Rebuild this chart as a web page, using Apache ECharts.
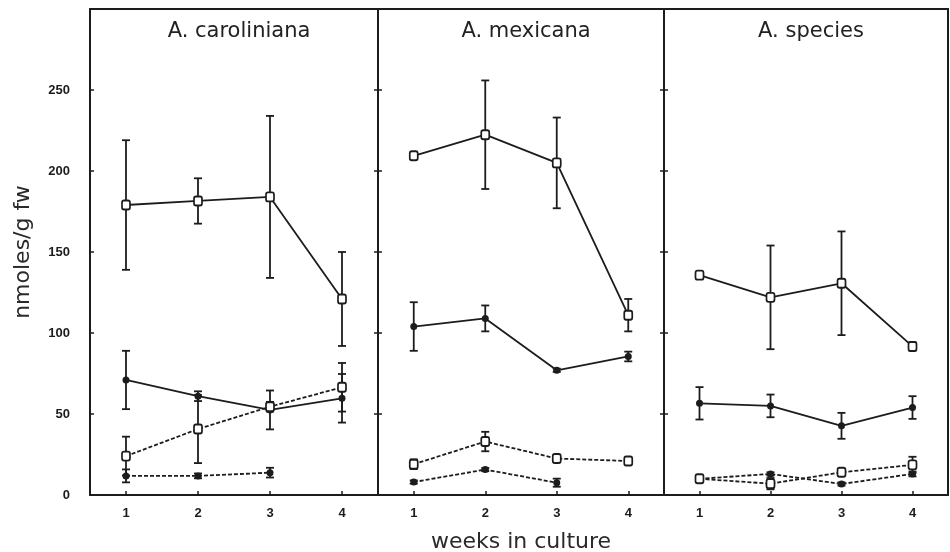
<!DOCTYPE html>
<html>
<head>
<meta charset="utf-8">
<script src="https://cdn.jsdelivr.net/npm/echarts@6/dist/echarts.min.js"></script>
<style>html,body{margin:0;padding:0;background:#fff;}#chart{width:950px;height:552px;}</style>
</head>
<body>
<div id="chart"></div>
<script>
// ---- data ----
const weeks = [1, 2, 3, 4];
const panelTitles = ['A. caroliniana', 'A. mexicana', 'A. species'];
const yTicks = [0, 50, 100, 150, 200, 250];
const xTickLabels = ['1', '2', '3', '4'];

// A. caroliniana
const carOpenSolid = [179, 181.5, 184, 121];
const carOpenSolidErr = [40, 14, 50, 29];
const carFilledSolid = [71, 61, 52.5, 59.7];
const carFilledSolidErr = [18, 3, 12, 15];
const carOpenDashed = [24, 40.7, 54.5, 66.5];
const carOpenDashedErr = [12, 21, 3, 15];
const carFilledDashed = [11.8, 11.8, 13.8, null];
const carFilledDashedErr = [4, 1.5, 3, null];

// A. mexicana
const mexOpenSolid = [209.4, 222.4, 205, 111];
const mexOpenSolidErr = [1.5, 33.5, 28, 10];
const mexFilledSolid = [104, 109, 77, 85.5];
const mexFilledSolidErr = [15, 8, 1, 3];
const mexOpenDashed = [19, 33, 22.5, 21];
const mexOpenDashedErr = [3, 6, 1.5, 1];
const mexFilledDashed = [8, 15.7, 7.6, null];
const mexFilledDashedErr = [1, 1, 2.5, null];

// A. species
const speOpenSolid = [135.7, 122, 130.7, 91.7];
const speOpenSolidErr = [2, 32, 32, 2.5];
const speFilledSolid = [56.6, 55, 42.7, 54];
const speFilledSolidErr = [10, 7, 8, 7];
const speOpenDashed = [10, 7, 14, 18.6];
const speOpenDashedErr = [1.5, 3.5, 1.5, 5];
const speFilledDashed = [10, 13, 6.8, 13];
const speFilledDashedErr = [1, 1, 1, 1.5];

// ---- build ----
const INK = '#1c1c1c';
const panels = [
  [carOpenSolid, carOpenSolidErr, carFilledSolid, carFilledSolidErr, carOpenDashed, carOpenDashedErr, carFilledDashed, carFilledDashedErr],
  [mexOpenSolid, mexOpenSolidErr, mexFilledSolid, mexFilledSolidErr, mexOpenDashed, mexOpenDashedErr, mexFilledDashed, mexFilledDashedErr],
  [speOpenSolid, speOpenSolidErr, speFilledSolid, speFilledSolidErr, speOpenDashed, speOpenDashedErr, speFilledDashed, speFilledDashedErr]
];
const gridBoxes = [
  {left: 90, width: 288},
  {left: 378, width: 286},
  {left: 664, width: 284}
];
const yAxisForGrid = [0, 1, 3];

function pairs(vals) {
  const out = [];
  weeks.forEach((w, i) => { if (vals[i] !== null) out.push([w, vals[i]]); });
  return out;
}
function triples(vals, errs) {
  const out = [];
  weeks.forEach((w, i) => { if (vals[i] !== null && errs[i]) out.push([w, vals[i], errs[i]]); });
  return out;
}
function errRender(params, api) {
  const x = api.value(0), y = api.value(1), e = api.value(2);
  const t = api.coord([x, y + e]);
  const b = api.coord([x, y - e]);
  const cap = 4;
  const st = {stroke: INK, lineWidth: 1.8};
  return {
    type: 'group',
    children: [
      {type: 'line', shape: {x1: t[0], y1: t[1], x2: b[0], y2: b[1]}, style: st},
      {type: 'line', shape: {x1: t[0] - cap, y1: t[1], x2: t[0] + cap, y2: t[1]}, style: st},
      {type: 'line', shape: {x1: b[0] - cap, y1: b[1], x2: b[0] + cap, y2: b[1]}, style: st}
    ]
  };
}

const grids = gridBoxes.map(g => ({
  left: g.left, width: g.width, top: 9, height: 486,
  outerBoundsMode: 'none', containLabel: false,
  show: true, borderColor: INK, borderWidth: 2, backgroundColor: 'transparent'
}));

const xAxes = gridBoxes.map((g, i) => ({
  type: 'value', gridIndex: i, min: 0.5, max: 4.5,
  axisLine: {show: true, onZero: false, lineStyle: {color: INK, width: 2}},
  axisTick: {show: true, inside: true, length: 4, customValues: weeks, lineStyle: {color: INK, width: 1.5}},
  axisLabel: {show: true, customValues: weeks, margin: 12, color: INK, fontSize: 13, fontWeight: 'bold', fontFamily: 'Liberation Sans',
    formatter: v => xTickLabels[weeks.indexOf(v)] || ''},
  splitLine: {show: false},
  name: i === 1 ? 'weeks in culture' : '',
  nameLocation: 'middle', nameGap: 36,
  nameTextStyle: {fontSize: 22, color: '#2a2a2a', fontFamily: 'DejaVu Sans'}
}));

function yAx(gridIndex, opts) {
  return Object.assign({
    type: 'value', gridIndex: gridIndex, min: 0, max: 300, interval: 50, position: 'left',
    axisLine: {show: true, lineStyle: {color: INK, width: 2}},
    axisTick: {show: true, inside: true, length: 4, lineStyle: {color: INK, width: 1.5}},
    axisLabel: {show: false},
    splitLine: {show: false}
  }, opts);
}
const yAxes = [
  yAx(0, {
    axisLabel: {show: true, margin: 20, color: INK, fontSize: 13, fontWeight: 'bold', fontFamily: 'Liberation Sans',
      formatter: v => yTicks.indexOf(v) >= 0 ? String(v) : ''},
    name: 'nmoles/g fw', nameLocation: 'middle', nameGap: 56,
    nameTextStyle: {fontSize: 22, color: '#2a2a2a', fontFamily: 'DejaVu Sans'}
  }),
  yAx(1, {}),
  yAx(1, {axisTick: {show: true, inside: false, length: 4, lineStyle: {color: INK, width: 1.5}}}),
  yAx(2, {}),
  yAx(2, {axisTick: {show: true, inside: false, length: 4, lineStyle: {color: INK, width: 1.5}}})
];

const series = [];
panels.forEach((p, gi) => {
  const yi = yAxisForGrid[gi];
  // error bars
  for (let k = 0; k < 4; k++) {
    series.push({
      type: 'custom', xAxisIndex: gi, yAxisIndex: yi, renderItem: errRender,
      data: triples(p[2 * k], p[2 * k + 1]), z: 2, silent: true
    });
  }
  const defs = [
    {vals: p[0], dashed: false, open: true},
    {vals: p[2], dashed: false, open: false},
    {vals: p[6], dashed: true, open: false},
    {vals: p[4], dashed: true, open: true}
  ];
  defs.forEach(d => {
    series.push({
      type: 'line', xAxisIndex: gi, yAxisIndex: yi, data: pairs(d.vals),
      symbol: d.open ? 'roundRect' : 'circle',
      symbolSize: d.open ? [8, 9] : 7,
      showSymbol: true,
      lineStyle: {color: INK, width: 1.8, type: d.dashed ? [4, 2] : 'solid'},
      itemStyle: d.open ? {color: '#fff', borderColor: INK, borderWidth: 1.8} : {color: INK, borderColor: INK, borderWidth: 0},
      z: d.open ? 4 : 3, silent: true, animation: false
    });
  });
});

const titles = panelTitles.map((t, i) => ({
  text: t, left: gridBoxes[i].left + gridBoxes[i].width / 2, top: 16, textAlign: 'center',
  textStyle: {fontSize: 21, fontWeight: 'normal', color: '#222', fontFamily: 'DejaVu Sans'}
}));

const chart = echarts.init(document.getElementById('chart'), null, {renderer: 'canvas'});
chart.setOption({
  backgroundColor: '#fff',
  animation: false,
  title: titles,
  grid: grids,
  xAxis: xAxes,
  yAxis: yAxes,
  series: series
});
</script>
</body>
</html>
